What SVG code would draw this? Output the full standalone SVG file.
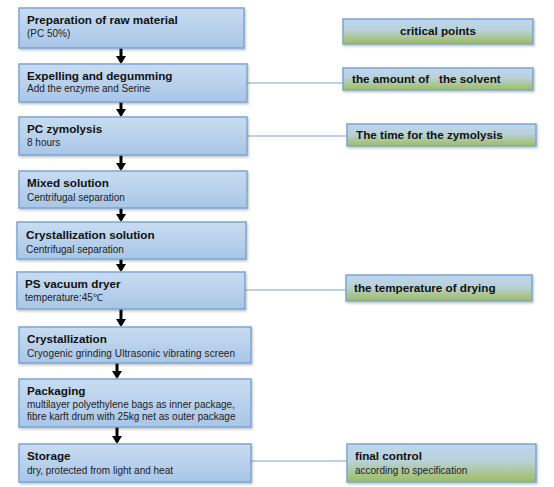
<svg xmlns="http://www.w3.org/2000/svg" width="554" height="487" viewBox="0 0 554 487">
<defs>
<linearGradient id="gBlue" x1="0" y1="0" x2="0" y2="1">
<stop offset="0" stop-color="#c8dcf1"/>
<stop offset="1" stop-color="#a9c6e7"/>
</linearGradient>
<linearGradient id="gCrit" x1="0" y1="0" x2="0" y2="1">
<stop offset="0" stop-color="#bed6ee"/>
<stop offset="0.45" stop-color="#b9d1d8"/>
<stop offset="1" stop-color="#9dbd5e"/>
</linearGradient>
<filter id="sh" x="-5%" y="-10%" width="110%" height="130%">
<feDropShadow dx="1" dy="1.5" stdDeviation="1" flood-color="#000" flood-opacity="0.25"/>
</filter>
<marker id="ah" markerUnits="userSpaceOnUse" markerWidth="8" markerHeight="10" refX="6" refY="5" orient="auto" viewBox="0 0 8 10">
<path d="M0,0 L8,5 L0,10 Z" fill="#000"/>
</marker>
</defs>
<style>
.step{fill:url(#gBlue);stroke:#7da5d2;stroke-width:1.5;filter:url(#sh)}
.crit{fill:url(#gCrit);stroke:#7da5d2;stroke-width:1.5;filter:url(#sh)}
.t{font-family:"Liberation Sans",Arial,sans-serif;font-weight:bold;font-size:11.7px;fill:#111}
.s{font-family:"Liberation Sans",Arial,sans-serif;font-size:10px;fill:#222}
.arr{stroke:#000;stroke-width:3;fill:none}
.con{stroke:#7da5d2;stroke-width:1.2;fill:none}
</style>
<rect width="554" height="487" fill="#fff"/>
<g id="connectors">
<line class="arr" x1="121" y1="48" x2="121" y2="62" marker-end="url(#ah)"/>
<line class="arr" x1="121" y1="102" x2="121" y2="115" marker-end="url(#ah)"/>
<line class="arr" x1="121" y1="155" x2="121" y2="169" marker-end="url(#ah)"/>
<line class="arr" x1="121" y1="208" x2="121" y2="220" marker-end="url(#ah)"/>
<line class="arr" x1="121" y1="259" x2="121" y2="270" marker-end="url(#ah)"/>
<line class="arr" x1="121" y1="309" x2="121" y2="325" marker-end="url(#ah)"/>
<line class="arr" x1="117" y1="363" x2="117" y2="377" marker-end="url(#ah)"/>
<line class="arr" x1="117" y1="427" x2="117" y2="442" marker-end="url(#ah)"/>
<line class="con" x1="247" y1="83" x2="343" y2="83"/>
<line class="con" x1="247" y1="136" x2="347" y2="136"/>
<line class="con" x1="245" y1="290" x2="346" y2="290"/>
<line class="con" x1="251" y1="461" x2="347" y2="461"/>
</g>
<g id="n1"><rect class="step" x="19" y="8" width="225" height="40"/>
<text class="t" x="27" y="24">Preparation of raw material</text>
<text class="s" x="27" y="37">(PC 50%)</text></g>
<g id="n2"><rect class="step" x="19" y="64" width="228" height="38"/>
<text class="t" x="27" y="80">Expelling and degumming</text>
<text class="s" x="27" y="92">Add the enzyme and Serine</text></g>
<g id="n3"><rect class="step" x="19" y="117" width="228" height="38"/>
<text class="t" x="27" y="133">PC zymolysis</text>
<text class="s" x="27" y="146">8 hours</text></g>
<g id="n4"><rect class="step" x="19" y="171" width="228" height="37"/>
<text class="t" x="27" y="187">Mixed solution</text>
<text class="s" x="27" y="201">Centrifugal separation</text></g>
<g id="n5"><rect class="step" x="17" y="222" width="229" height="37"/>
<text class="t" x="26" y="239">Crystallization solution</text>
<text class="s" x="26" y="253">Centrifugal separation</text></g>
<g id="n6"><rect class="step" x="17" y="272" width="228" height="37"/>
<text class="t" x="25" y="288">PS vacuum dryer</text>
<text class="s" x="25" y="301">temperature:45℃</text></g>
<g id="n7"><rect class="step" x="19" y="327" width="232" height="36"/>
<text class="t" x="27" y="343">Crystallization</text>
<text class="s" x="27" y="357" textLength="208">Cryogenic grinding Ultrasonic vibrating screen</text></g>
<g id="n8"><rect class="step" x="19" y="379" width="232" height="48"/>
<text class="t" x="27" y="395">Packaging</text>
<text class="s" x="27" y="408">multilayer polyethylene bags as inner package,</text>
<text class="s" x="27" y="420">fibre karft drum with 25kg net as outer package</text></g>
<g id="n9"><rect class="step" x="19" y="444" width="232" height="38"/>
<text class="t" x="27" y="460">Storage</text>
<text class="s" x="27" y="474">dry, protected from light and heat</text></g>
<g id="c0"><rect class="crit" x="343" y="19" width="190" height="25"/>
<text class="t" x="438" y="35" text-anchor="middle">critical points</text></g>
<g id="c1"><rect class="crit" x="343" y="68" width="190" height="22"/>
<text class="t" x="352" y="83" xml:space="preserve">the amount of   the solvent</text></g>
<g id="c2"><rect class="crit" x="347" y="124" width="189" height="22"/>
<text class="t" x="356" y="139">The time for the zymolysis</text></g>
<g id="c3"><rect class="crit" x="346" y="275" width="186" height="26"/>
<text class="t" x="354" y="292">the temperature of drying</text></g>
<g id="c4"><rect class="crit" x="347" y="444" width="189" height="38"/>
<text class="t" x="355" y="460">final control</text>
<text class="s" x="355" y="474">according to specification</text></g>
</svg>
